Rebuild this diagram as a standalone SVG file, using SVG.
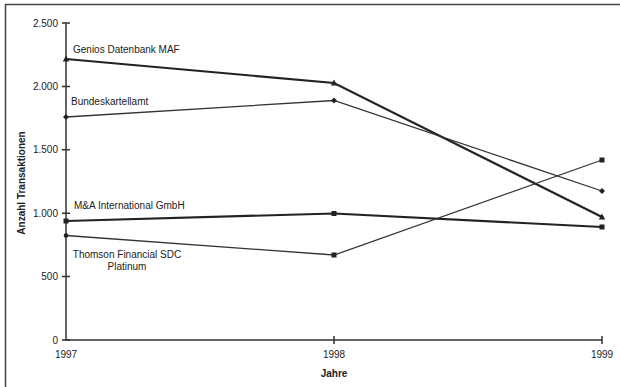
<svg xmlns="http://www.w3.org/2000/svg" width="620" height="387" viewBox="0 0 620 387">
<style>
text{font-family:"Liberation Sans",Arial,sans-serif;font-size:10px;fill:#222}
.b{font-weight:bold}
.ax{stroke:#333;stroke-width:1.5;fill:none}
.ln{stroke:#333;stroke-width:1.3;fill:none}
.lnb{stroke:#222;stroke-width:2.2;fill:none}
.mk{fill:#222}
</style>
<defs>
<rect id="sq" x="-2.5" y="-2.5" width="5" height="5"/>
<path id="di" d="M0,-3 L3,0 L0,3 L-3,0Z"/>
<path id="tr" d="M0,-3.5 L3.2,2.5 L-3.2,2.5Z"/>
</defs>
<rect x="0" y="0" width="620" height="387" fill="#fff"/>
<g id="frame">
<line x1="5" y1="4.5" x2="620" y2="4.5" stroke="#444" stroke-width="1.5"/>
<line x1="5.5" y1="4" x2="5.5" y2="387" stroke="#444" stroke-width="1.5"/>
</g>
<g id="axes">
<path class="ax" d="M66,23 V340 H602"/>
<path class="ax" d="M62,23 H70 M62,86.4 H70 M62,149.8 H70 M62,213.2 H70 M62,276.6 H70 M62,340 H70 M334,336 V344 M602,336 V344"/>
<g text-anchor="end">
<text x="58" y="27">2.500</text>
<text x="58" y="90">2.000</text>
<text x="58" y="153">1.500</text>
<text x="58" y="217">1.000</text>
<text x="58" y="280">500</text>
<text x="58" y="344">0</text>
</g>
<g text-anchor="middle">
<text x="66" y="358">1997</text>
<text x="334" y="358">1998</text>
<text x="602" y="358">1999</text>
<text class="b" x="334" y="377">Jahre</text>
<text class="b" transform="translate(25,183) rotate(-90)">Anzahl Transaktionen</text>
</g>
</g>
<g id="connectors">
<polyline class="lnb" points="66,59 334,83 602,217"/>
<polyline class="ln" points="66,117 334,100.5 602,191"/>
<polyline class="lnb" points="66,221 334,213.5 602,227"/>
<polyline class="ln" points="66,235.5 334,255 602,160"/>
</g>
<g id="genios">
<g class="mk"><use href="#tr" x="66" y="59"/><use href="#tr" x="334" y="83"/><use href="#tr" x="602" y="217"/></g>
<text x="73" y="53">Genios Datenbank MAF</text>
</g>
<g id="bundeskartellamt">
<g class="mk"><use href="#di" x="66" y="117"/><use href="#di" x="334" y="100.5"/><use href="#di" x="602" y="191"/></g>
<text x="71" y="105">Bundeskartellamt</text>
</g>
<g id="ma">
<g class="mk"><use href="#sq" x="66" y="221"/><use href="#sq" x="334" y="213.5"/><use href="#sq" x="602" y="227"/></g>
<text x="74" y="209">M&amp;A International GmbH</text>
</g>
<g id="thomson">
<g class="mk"><circle cx="66" cy="235.5" r="2.3"/><use href="#sq" x="334" y="255"/><use href="#sq" x="602" y="160"/></g>
<text x="127" y="258" text-anchor="middle">Thomson Financial SDC</text>
<text x="127" y="270" text-anchor="middle">Platinum</text>
</g>
</svg>
